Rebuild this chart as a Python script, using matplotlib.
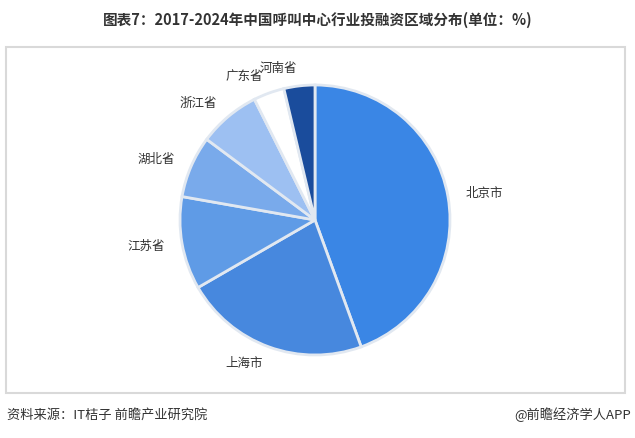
import matplotlib
matplotlib.use("Agg")
import matplotlib.pyplot as plt
from matplotlib.patches import Rectangle

plt.rcParams['font.family'] = ['Noto Sans CJK SC', 'DejaVu Sans']

regions = ['北京市', '上海市', '江苏省', '湖北省', '浙江省', '广东省', '河南省']
shares = [44.4, 22.2, 11.1, 7.4, 7.4, 3.7, 3.7]
colors = ['#3a86e5', '#4788de', '#5f9be6', '#79aaeb', '#9dc0f2', '#ffffff', '#1a4c9c']

title = '图表7：2017-2024年中国呼叫中心行业投融资区域分布(单位：%)'
source = '资料来源：IT桔子 前瞻产业研究院'
credit = '@前瞻经济学人APP'

W, H = 635, 438
fig = plt.figure(figsize=(W / 100, H / 100), dpi=100)

cx, cy, r = 315, 220, 135
ax = fig.add_axes([(cx - r) / W, (H - cy - r) / H, 2 * r / W, 2 * r / H])
wedges, texts = ax.pie(shares, labels=regions, colors=colors, startangle=90,
                       counterclock=False, labeldistance=1.13,
                       wedgeprops=dict(edgecolor='#e1e8f1', linewidth=2),
                       textprops=dict(fontsize=9, color='#333333'))
ax.set_xlim(-1, 1)
ax.set_ylim(-1, 1)
ax.set_aspect('equal')

fig.add_artist(Rectangle((6 / W, (H - 393) / H), 619 / W, 346 / H,
                         transform=fig.transFigure, fill=False,
                         edgecolor='#d9d9d9', linewidth=1.5))

fig.text(0.5, (H - 20) / H, title, ha='center', va='center', fontsize=10.5,
         fontweight='bold', color='#333333')
fig.text(7 / W, (H - 415) / H, source, ha='left', va='center', fontsize=9.5,
         color='#333333')
fig.text(631 / W, (H - 415) / H, credit, ha='right', va='center', fontsize=9.5,
         color='#333333')

fig.savefig('out.png', dpi=100)
